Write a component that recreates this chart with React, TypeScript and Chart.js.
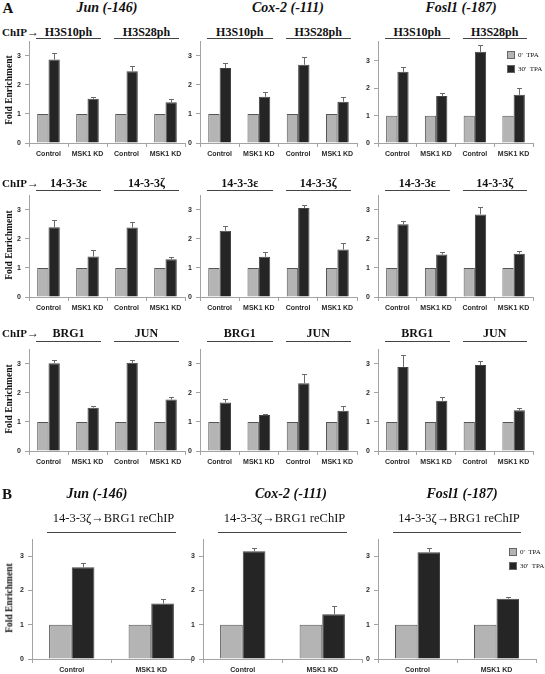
import React, { useEffect, useRef } from 'react';
import { Chart, registerables } from 'chart.js';
Chart.register(...registerables);

// ---------- data ----------
const promoters = ['Jun (-146)', 'Cox-2 (-111)', 'Fosl1 (-187)'];
const rowTargets = [
  ['H3S10ph', 'H3S28ph'],
  ['14-3-3ε', '14-3-3ζ'],
  ['BRG1', 'JUN'],
];
const reChipLabel = '14-3-3ζ→BRG1 reChIP';
const categoriesA = ['Control', 'MSK1 KD', 'Control', 'MSK1 KD'];
const categoriesB = ['Control', 'MSK1 KD'];
const seriesNames = ["0'  TPA", "30'  TPA"];
const yAxisTitle = 'Fold Enrichment';

const tpa0A = [1, 1, 1, 1];
const tpa0B = [1, 1];

// row 1 : H3S10ph / H3S28ph
const junH3 = [2.87, 1.52, 2.47, 1.40];
const junH3Err = [0.22, 0.07, 0.17, 0.12];
const coxH3 = [2.58, 1.59, 2.69, 1.42];
const coxH3Err = [0.18, 0.16, 0.27, 0.16];
const foslH3 = [2.60, 1.72, 3.33, 1.76];
const foslH3Err = [0.18, 0.12, 0.24, 0.26];
// row 2 : 14-3-3 epsilon / zeta
const jun1433 = [2.40, 1.39, 2.39, 1.30];
const jun1433Err = [0.25, 0.21, 0.18, 0.08];
const cox1433 = [2.28, 1.38, 3.06, 1.63];
const cox1433Err = [0.15, 0.15, 0.12, 0.21];
const fosl1433 = [2.50, 1.46, 2.84, 1.49];
const fosl1433Err = [0.10, 0.09, 0.25, 0.08];
// row 3 : BRG1 / JUN
const junBrg = [3.02, 1.49, 3.03, 1.77];
const junBrgErr = [0.12, 0.07, 0.11, 0.09];
const coxBrg = [1.67, 1.24, 2.33, 1.38];
const coxBrgErr = [0.12, 0.03, 0.33, 0.17];
const foslBrg = [2.89, 1.73, 2.96, 1.40];
const foslBrgErr = [0.41, 0.12, 0.12, 0.09];
// B : reChIP
const junRe = [2.68, 1.62];
const junReErr = [0.13, 0.14];
const coxRe = [3.15, 1.31];
const coxReErr = [0.09, 0.25];
const foslRe = [3.12, 1.76];
const foslReErr = [0.12, 0.05];

const yMaxA = [[3.5, 3.5, 3.72], [3.5, 3.5, 3.5], [3.5, 3.5, 3.5]];
const yMaxB = [3.5, 3.5, 3.5];

const valuesA = [
  [junH3, coxH3, foslH3],
  [jun1433, cox1433, fosl1433],
  [junBrg, coxBrg, foslBrg],
];
const errorsA = [
  [junH3Err, coxH3Err, foslH3Err],
  [jun1433Err, cox1433Err, fosl1433Err],
  [junBrgErr, coxBrgErr, foslBrgErr],
];
const valuesB = [junRe, coxRe, foslRe];
const errorsB = [junReErr, coxReErr, foslReErr];

// ---------- layout ----------
const colA = [[29, 185], [200, 357], [378, 533]];
const rowA = [[38.5, 142], [193, 297], [347, 451]];
const colB = [[32, 191], [203, 362], [378, 536]];
const rowB = [537, 659];

const titleAX = [107, 288, 461];
const titleBX = [97, 291, 462];

const YW = 22, PT = 6, PR = 4, XH = 24;
const tickFont = { family: '"Liberation Sans", Arial, sans-serif', size: 7, weight: 'bold' as const };
const AXIS = '#a3a3a3';
const GRAY = '#b4b4b4';
const BLACK = '#252525';

type PanelProps = {
  labels: string[]; v0: number[]; v30: number[]; err: number[];
  left: number; right: number; top: number; bottom: number; yMax: number; frac: number;
};

function Panel(p: PanelProps) {
  const ref = useRef<HTMLCanvasElement>(null);
  const w = Math.round(p.right - p.left + YW + PR);
  const h = Math.round(p.bottom - p.top + PT + XH);
  useEffect(() => {
    const errPlugin = {
      id: 'errbars',
      afterDatasetsDraw(chart: any) {
        const ctx = chart.ctx;
        const meta = chart.getDatasetMeta(1);
        const ys = chart.scales.y;
        ctx.save();
        ctx.strokeStyle = '#6a6a6a';
        ctx.lineWidth = 1;
        meta.data.forEach((bar: any, i: number) => {
          const x = Math.round(bar.x) + 0.5;
          const y1 = ys.getPixelForValue(p.v30[i]);
          const y2 = Math.round(ys.getPixelForValue(p.v30[i] + p.err[i])) + 0.5;
          ctx.beginPath();
          ctx.moveTo(x, y1);
          ctx.lineTo(x, y2);
          ctx.moveTo(x - 2.5, y2);
          ctx.lineTo(x + 2.5, y2);
          ctx.stroke();
        });
        ctx.restore();
      },
    };
    const chart = new Chart(ref.current as HTMLCanvasElement, {
      type: 'bar',
      data: {
        labels: p.labels,
        datasets: [
          { label: seriesNames[0], data: p.v0, backgroundColor: GRAY, borderColor: '#555', borderWidth: 1 },
          { label: seriesNames[1], data: p.v30, backgroundColor: BLACK, borderColor: '#444', borderWidth: 1 },
        ],
      },
      options: {
        responsive: false,
        animation: false,
        devicePixelRatio: 1,
        layout: { padding: { top: PT, right: PR, left: 0, bottom: 0 } },
        datasets: { bar: { categoryPercentage: p.frac, barPercentage: 1 } },
        plugins: { legend: { display: false }, tooltip: { enabled: false } },
        scales: {
          x: {
            grid: { drawOnChartArea: false, tickLength: 4, color: AXIS },
            border: { color: AXIS },
            ticks: { font: tickFont, color: '#2a2a2a', padding: 3, maxRotation: 0, autoSkip: false },
            afterFit: (s: any) => { s.height = XH; },
          },
          y: {
            min: 0,
            max: p.yMax,
            grid: { drawOnChartArea: false, tickLength: 4, color: AXIS },
            border: { color: AXIS },
            ticks: { stepSize: 1, includeBounds: false, font: tickFont, color: '#2a2a2a', padding: 4 },
            afterFit: (s: any) => { s.width = YW; },
          },
        },
      } as any,
      plugins: [errPlugin],
    });
    return () => chart.destroy();
  }, []);
  return (
    <canvas
      ref={ref}
      width={w}
      height={h}
      style={{ position: 'absolute', left: Math.round(p.left - YW), top: Math.round(p.top - PT), width: w, height: h }}
    />
  );
}

const serif = '"Liberation Serif", "Times New Roman", serif';

function Txt(props: { x: number; y: number; children: any; style?: any; align?: 'left' | 'center' }) {
  const center = props.align !== 'left';
  return (
    <div
      style={{
        position: 'absolute',
        left: props.x,
        top: props.y,
        transform: center ? 'translate(-50%, -50%)' : 'translate(0, -50%)',
        whiteSpace: 'pre',
        fontFamily: serif,
        color: '#111',
        lineHeight: 1,
        ...props.style,
      }}
    >
      {props.children}
    </div>
  );
}

function HLine(props: { x1: number; x2: number; y: number }) {
  return (
    <div style={{ position: 'absolute', left: props.x1, top: props.y, width: props.x2 - props.x1, height: 1, background: '#444' }} />
  );
}

function YTitle(props: { x: number; y: number }) {
  return (
    <Txt x={props.x} y={props.y} style={{ transform: 'translate(-50%, -50%) rotate(-90deg)', fontSize: 9.5, fontWeight: 'bold' }}>
      {yAxisTitle}
    </Txt>
  );
}

function Legend(props: { x: number; y: number }) {
  const items = [GRAY, BLACK];
  return (
    <>
      {items.map((c, i) => (
        <React.Fragment key={i}>
          <div style={{ position: 'absolute', left: props.x, top: props.y + i * 14 - 4, width: 6, height: 6, background: c, border: '1px solid #666' }} />
          <Txt x={props.x + 11} y={props.y + i * 14} align="left" style={{ fontSize: 7 }}>{seriesNames[i]}</Txt>
        </React.Fragment>
      ))}
    </>
  );
}

const headerTextY = [32, 183, 333];
const headerLineY = [38, 190, 341];

export default function App() {
  return (
    <div style={{ position: 'absolute', left: 0, top: 0, width: 545, height: 674, background: '#fff', overflow: 'hidden' }}>
      {/* Section A */}
      <Txt x={8} y={8} style={{ fontSize: 15, fontWeight: 'bold' }}>A</Txt>
      {promoters.map((t, c) => (
        <Txt key={'ta' + c} x={titleAX[c]} y={8} style={{ fontSize: 14, fontWeight: 'bold', fontStyle: 'italic' }}>{t}</Txt>
      ))}
      {rowTargets.map((targets, r) => (
        <React.Fragment key={'row' + r}>
          <Txt x={2} y={headerTextY[r]} align="left" style={{ fontSize: 11, fontWeight: 'bold' }}>
            ChIP<span style={{ fontSize: 12, fontWeight: 'normal' }}>→</span>
          </Txt>
          {colA.map(([l, rr], c) => {
            const half = (rr - l) / 2;
            return targets.map((tg, k) => {
              const x1 = l + k * half + 7;
              const x2 = l + (k + 1) * half - 6;
              return (
                <React.Fragment key={`h${r}${c}${k}`}>
                  <Txt x={(x1 + x2) / 2} y={headerTextY[r]} style={{ fontSize: 12, fontWeight: 'bold' }}>{tg}</Txt>
                  <HLine x1={x1} x2={x2} y={headerLineY[r]} />
                </React.Fragment>
              );
            });
          })}
          {colA.map(([l, rr], c) => (
            <Panel
              key={`p${r}${c}`}
              labels={categoriesA}
              v0={tpa0A}
              v30={valuesA[r][c]}
              err={errorsA[r][c]}
              left={l}
              right={rr}
              top={rowA[r][0]}
              bottom={rowA[r][1]}
              yMax={yMaxA[r][c]}
              frac={0.58}
            />
          ))}
          <YTitle x={10} y={(rowA[r][0] + rowA[r][1]) / 2} />
        </React.Fragment>
      ))}
      <Legend x={507} y={55} />

      {/* Section B */}
      <Txt x={7} y={494} style={{ fontSize: 15, fontWeight: 'bold' }}>B</Txt>
      {promoters.map((t, c) => (
        <Txt key={'tb' + c} x={titleBX[c]} y={494} style={{ fontSize: 14, fontWeight: 'bold', fontStyle: 'italic' }}>{t}</Txt>
      ))}
      {colB.map(([l, rr], c) => (
        <React.Fragment key={'b' + c}>
          <Txt x={(l + rr) / 2 + 2} y={518} style={{ fontSize: 12.5 }}>{reChipLabel}</Txt>
          <HLine x1={l + 15} x2={rr - 15} y={532} />
          <Panel
            labels={categoriesB}
            v0={tpa0B}
            v30={valuesB[c]}
            err={errorsB[c]}
            left={l}
            right={rr}
            top={rowB[0]}
            bottom={rowB[1]}
            yMax={yMaxB[c]}
            frac={0.57}
          />
        </React.Fragment>
      ))}
      <YTitle x={10} y={(rowB[0] + rowB[1]) / 2} />
      <Legend x={509} y={552} />
    </div>
  );
}
